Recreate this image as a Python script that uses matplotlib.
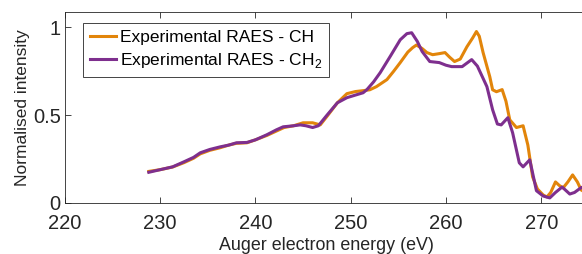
import matplotlib
matplotlib.use('Agg')
from matplotlib import pyplot as plt

plt.rcParams['font.family'] = ['Liberation Sans', 'DejaVu Sans']
plt.rcParams['mathtext.fontset'] = 'custom'
plt.rcParams['mathtext.rm'] = 'Liberation Sans'

# CH spectrum (orange)
energy_ch = [228.8, 230.0, 231.3, 232.5, 233.5, 234.2, 235.2, 236.3, 237.2, 238.0,
             239.1, 240.0, 241.2, 242.2, 243.0, 244.0, 245.0, 246.0, 246.8, 247.6,
             248.6, 249.6, 250.5, 251.3, 252.0, 252.7, 253.8, 254.5, 255.2, 256.0,
             256.5, 256.9, 257.5, 258.0, 258.6, 259.3, 259.9, 260.4, 260.9, 261.5,
             262.2, 262.8, 263.2, 263.5, 263.9, 264.6, 264.9, 265.3, 265.9, 266.3,
             266.7, 267.4, 268.1, 268.6, 269.1, 269.6, 270.2, 270.6, 271.0, 271.5,
             271.9, 272.3, 272.8, 273.3, 273.8, 274.2, 275.0]
intensity_ch = [0.18, 0.19, 0.205, 0.23, 0.255, 0.28, 0.30, 0.315, 0.33, 0.34,
                0.343, 0.36, 0.385, 0.41, 0.43, 0.44, 0.457, 0.457, 0.445, 0.50,
                0.571, 0.623, 0.635, 0.64, 0.645, 0.663, 0.703, 0.75, 0.80, 0.86,
                0.885, 0.90, 0.88, 0.857, 0.845, 0.851, 0.857, 0.83, 0.806, 0.82,
                0.89, 0.94, 0.977, 0.95, 0.857, 0.72, 0.645, 0.634, 0.646, 0.58,
                0.474, 0.43, 0.44, 0.33, 0.149, 0.08, 0.046, 0.034, 0.06, 0.12,
                0.10, 0.086, 0.12, 0.16, 0.12, 0.074, 0.05]

# CH2 spectrum (purple)
energy_ch2 = [228.8, 230.0, 231.3, 232.5, 233.5, 234.2, 235.2, 236.3, 237.2, 238.0,
              239.1, 240.0, 241.2, 242.2, 242.9, 244.0, 244.7, 245.3, 246.0, 246.6,
              247.5, 248.6, 249.6, 250.5, 251.3, 251.7, 252.4, 253.1, 254.2, 255.2,
              255.9, 256.4, 257.0, 257.5, 258.3, 259.3, 260.0, 260.6, 261.7, 262.7,
              263.3, 264.3, 264.9, 265.4, 265.8, 266.5, 267.0, 267.7, 268.1, 268.8,
              269.5, 270.2, 270.9, 271.5, 272.2, 273.0, 273.5, 274.2, 275.0]
intensity_ch2 = [0.175, 0.19, 0.206, 0.235, 0.26, 0.286, 0.305, 0.32, 0.33, 0.343,
                 0.345, 0.36, 0.389, 0.417, 0.434, 0.44, 0.445, 0.44, 0.43, 0.44,
                 0.50, 0.571, 0.60, 0.615, 0.628, 0.646, 0.69, 0.743, 0.84, 0.93,
                 0.965, 0.97, 0.92, 0.863, 0.806, 0.80, 0.785, 0.777, 0.777, 0.817,
                 0.78, 0.663, 0.531, 0.45, 0.445, 0.486, 0.40, 0.229, 0.206, 0.246,
                 0.07, 0.04, 0.029, 0.06, 0.091, 0.051, 0.06, 0.088, 0.1]

xticks = [220, 230, 240, 250, 260, 270]
yticks = [0, 0.5, 1]
ytick_labels = ['0', '0.5', '1']

fig = plt.figure(figsize=(5.82, 2.54), dpi=100)
ax = fig.add_axes([0.1117, 0.2008, 0.900, 0.7532])

ax.plot(energy_ch, intensity_ch, color='#E2850A', lw=2.2, label='Experimental RAES - CH')
ax.plot(energy_ch2, intensity_ch2, color='#7E2F8E', lw=2.2, label='Experimental RAES - CH$_2$')

ax.set_xlim(220, 275)
ax.set_ylim(0, 1.09)
ax.set_xticks(xticks)
ax.set_yticks(yticks)
ax.set_yticklabels(ytick_labels)
ax.tick_params(direction='in', length=4, width=0.6, colors='#262626',
               labelsize=14.5, top=True, right=True)
ax.tick_params(axis='x', pad=8)
ax.tick_params(axis='y', pad=3)
for s in ax.spines.values():
    s.set_color('#262626')
    s.set_linewidth(0.6)

ax.set_xlabel('Auger electron energy (eV)', fontsize=12.9, color='#262626', labelpad=3)
ax.set_ylabel('Normalised intensity', fontsize=12.5, color='#262626', labelpad=2)

leg = ax.legend(loc='upper left', bbox_to_anchor=(0.035, 0.941), borderaxespad=0,
                fontsize=12.5, handlelength=1.5, handletextpad=0.2, borderpad=0.4,
                labelspacing=0.35, fancybox=False, framealpha=1)
leg.get_frame().set_edgecolor('#262626')
leg.get_frame().set_linewidth(0.6)

fig.savefig('out.png', dpi=100)
